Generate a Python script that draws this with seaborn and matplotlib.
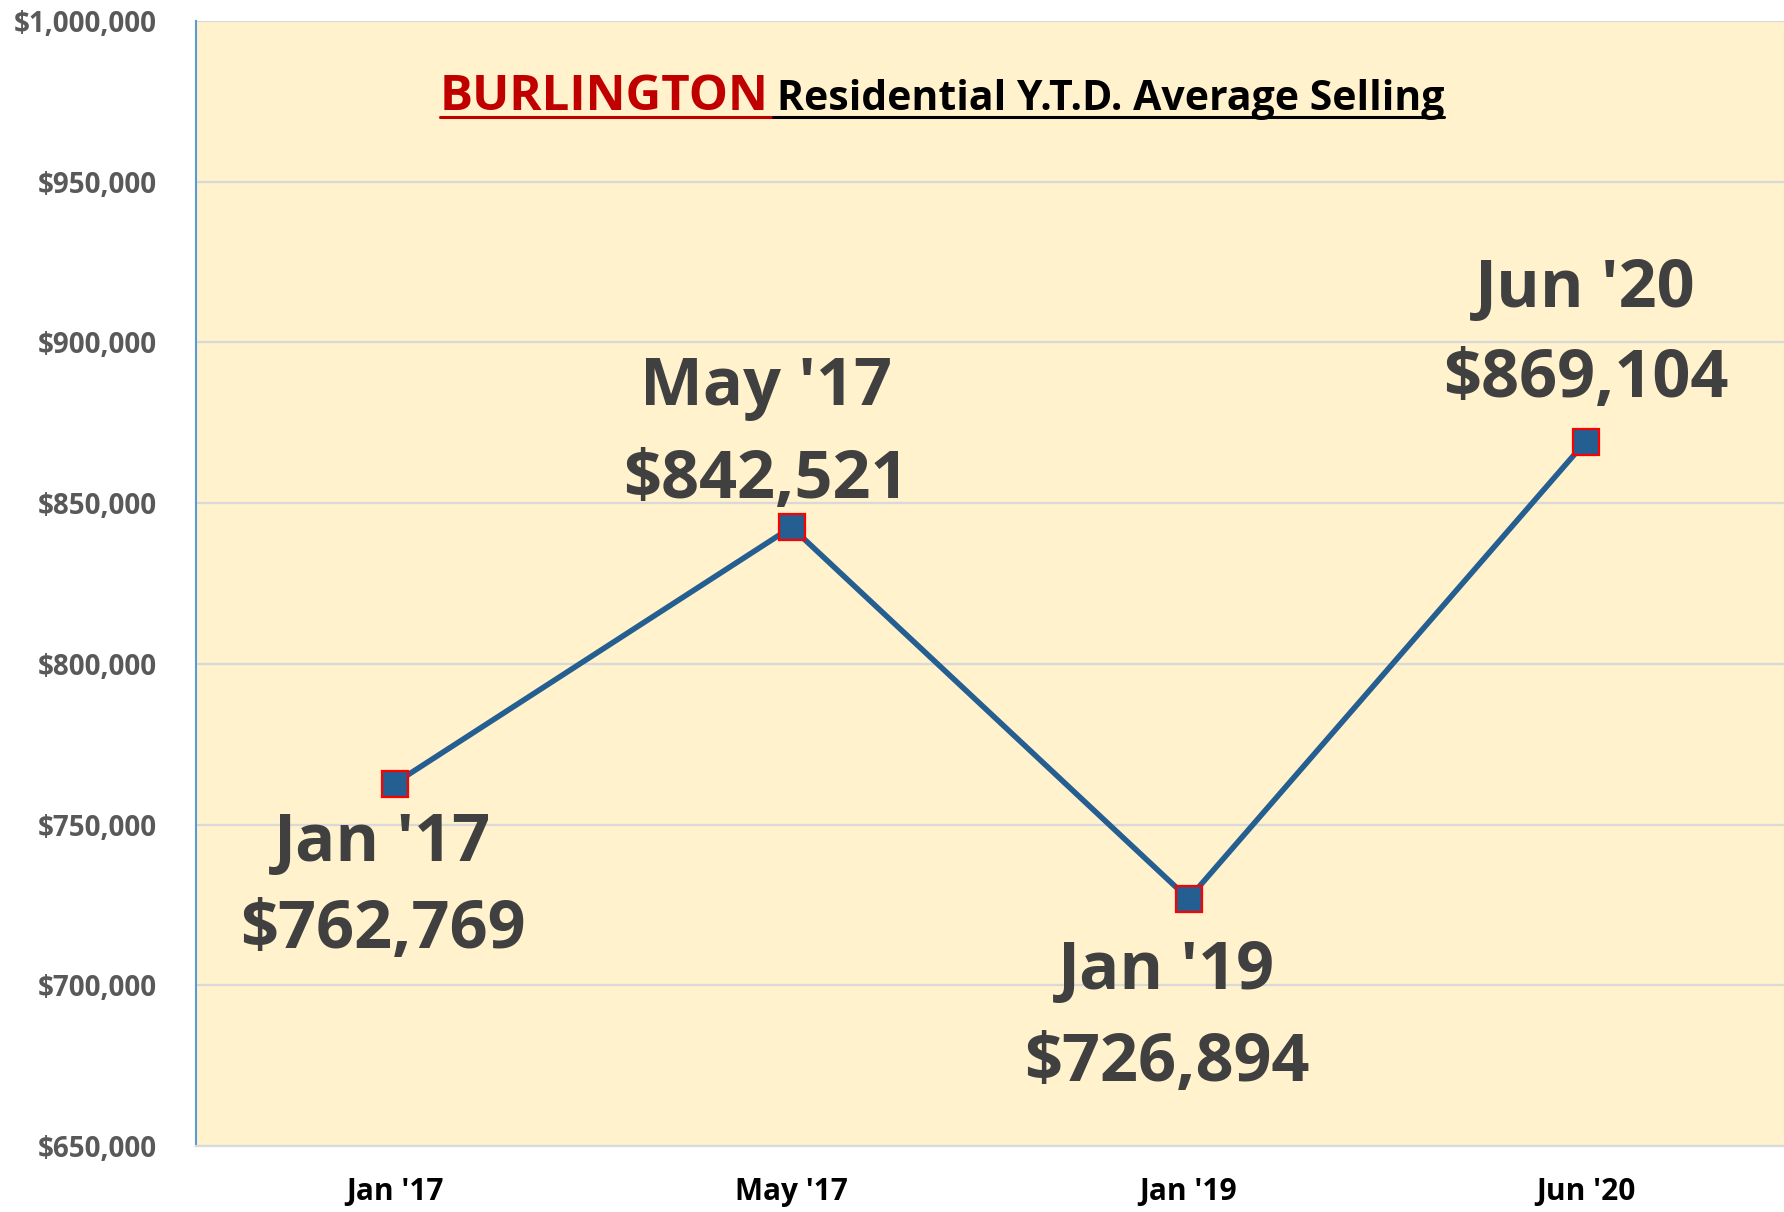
import numpy as np
import pandas as pd
import seaborn as sns
import matplotlib.pyplot as plt
from matplotlib.lines import Line2D

# ---- data ----
periods = ["Jan '17", "May '17", "Jan '19", "Jun '20"]
prices = [762769, 842521, 726894, 869104]
y_tick_values = [650000, 700000, 750000, 800000, 850000, 900000, 950000, 1000000]
title_city = "BURLINGTON"
title_rest = "Residential Y.T.D. Average Selling"

# ---- style (label offsets in pixels: dx, baseline dy line1, baseline dy line2) ----
label_offsets = [(-12, -77, -164), (-26, 122, 29), (-22, -90, -182), (0, 135, 45)]

W, H = 1784, 1212
sns.set_theme(style="white")
plt.rcParams['font.family'] = ['Open Sans', 'DejaVu Sans']

fig = plt.figure(figsize=(W / 100, H / 100), dpi=100)
left, top, bottom = 196, 21, 1146
ax = fig.add_axes([left / W, 1 - bottom / H, 1 - left / W, (bottom - top) / H])
ax.set_facecolor('#FFF2CC')

df = pd.DataFrame({'period': periods, 'price': prices})
sns.lineplot(data=df, x='period', y='price', ax=ax, sort=False,
             color='#255E91', linewidth=4, marker='s', markersize=19,
             markerfacecolor='#255E91', markeredgecolor='#FF0000',
             markeredgewidth=1.6, zorder=3)

ax.set_xlim(-0.5, len(periods) - 0.5)
ax.set_ylim(y_tick_values[0], y_tick_values[-1])
ax.set_yticks(y_tick_values)
ax.set_yticklabels([f"${v:,}" for v in y_tick_values])
ax.set_xticks(range(len(periods)))
ax.set_xticklabels(periods)
ax.set_xlabel('')
ax.set_ylabel('')

ax.yaxis.grid(True, color='#D9D9D9', linewidth=1.6)
ax.xaxis.grid(False)
ax.set_axisbelow(True)

for s in ['top', 'right']:
    ax.spines[s].set_visible(False)
ax.spines['left'].set_color('#5B9BD5')
ax.spines['left'].set_linewidth(1.5)
ax.spines['bottom'].set_color('#D9D9D9')
ax.spines['bottom'].set_linewidth(1.6)

ax.tick_params(axis='y', length=0, pad=28, labelsize=20, labelcolor='#595959')
ax.tick_params(axis='x', length=0, pad=22, labelsize=21.5, labelcolor='#000000')
for t in ax.get_yticklabels() + ax.get_xticklabels():
    t.set_fontweight('bold')

# data labels
for i, (p, v) in enumerate(zip(periods, prices)):
    dx, dy1, dy2 = label_offsets[i]
    for txt, dy in ((p, dy1), (f"${v:,}", dy2)):
        ax.annotate(txt, xy=(i, v), xytext=(dx, dy), textcoords='offset pixels',
                    ha='center', va='baseline', fontsize=48, fontweight='bold',
                    color='#404040', zorder=4)

# title with underlines
base_y = 1 - 110 / H
t1 = fig.text(440 / W, base_y, title_city, ha='left', va='baseline',
              fontsize=35.5, fontweight='bold', color='#C00000')
fig.canvas.draw()
r = fig.canvas.get_renderer()
bb1 = t1.get_window_extent(r)
t2 = fig.text((bb1.x1 + 8) / W, base_y, title_rest, ha='left', va='baseline',
              fontsize=29.5, fontweight='bold', color='#000000')
fig.canvas.draw()
bb2 = t2.get_window_extent(r)
uy = 1 - 117 / H
fig.add_artist(Line2D([bb1.x0 / W, (bb1.x1 + 4) / W], [uy, uy], color='#C00000', lw=2.2))
fig.add_artist(Line2D([(bb1.x1 + 4) / W, bb2.x1 / W], [uy, uy], color='#000000', lw=2.2))

fig.savefig('out.png', dpi=100, facecolor='white')
